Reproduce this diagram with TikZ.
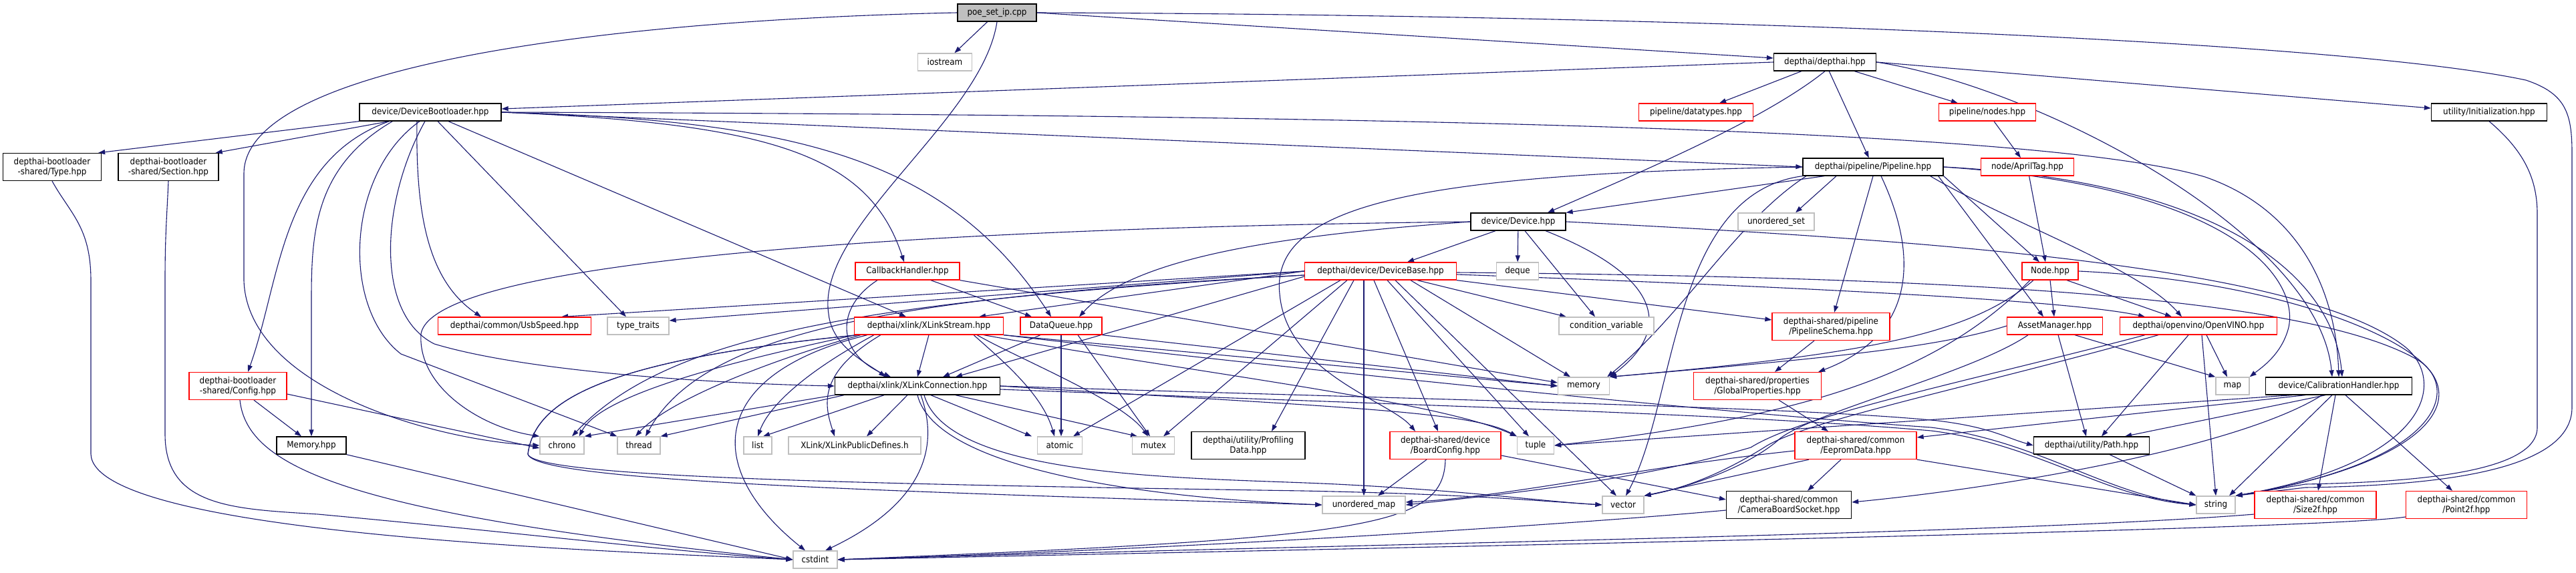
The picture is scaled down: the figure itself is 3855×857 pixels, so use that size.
\documentclass[tikz,border=0pt]{standalone}
\usepackage{fontspec}
\setmainfont{DejaVu Sans Condensed}
\usetikzlibrary{arrows.meta,backgrounds}
\definecolor{edgec}{HTML}{191970}
\definecolor{redc}{HTML}{FF0000}
\definecolor{grayc}{HTML}{BFBFBF}
\begin{document}
\begin{tikzpicture}[x=1pt,y=1pt,
  bx/.style={draw, line width=1.3pt, inner sep=0pt, minimum height=26pt, align=center, fill=white, font=\fontsize{13.3}{15}\selectfont},
  kb/.style={bx, draw=black},
  rb/.style={bx, draw=redc},
  gb/.style={bx, draw=grayc},
  tw/.style={minimum height=41pt},
  ed/.style={draw=edgec, line width=1.1pt, -{Triangle[length=10pt,width=7pt]}},
]
\useasboundingbox (0,0) rectangle (3855,-857);
% ---------------- nodes
\node[kb, fill=grayc, minimum width=118pt] (poe) at (1492,-19) {poe\_set\_ip.cpp};
\node[gb, minimum width=81pt] (iostream) at (1414,-93) {iostream};
\node[kb, minimum width=153pt] (dai) at (2731,-93) {depthai/depthai.hpp};
\node[kb, minimum width=212pt] (dbl) at (644,-168) {device/DeviceBootloader.hpp};
\node[rb, minimum width=171pt] (dtypes) at (2538,-168) {pipeline/datatypes.hpp};
\node[rb, minimum width=145pt] (pnodes) at (2974,-168) {pipeline/nodes.hpp};
\node[kb, minimum width=173pt] (init) at (3725,-168) {utility/Initialization.hpp};
\node[kb, tw, minimum width=147pt] (btype) at (78,-250) {depthai-bootloader\\-shared/Type.hpp};
\node[kb, tw, minimum width=150pt] (bsec) at (252,-250) {depthai-bootloader\\-shared/Section.hpp};
\node[kb, minimum width=210pt] (pipe) at (2803,-250) {depthai/pipeline/Pipeline.hpp};
\node[rb, minimum width=139pt] (april) at (3034,-250) {node/AprilTag.hpp};
\node[kb, minimum width=142pt] (dev) at (2272,-332) {device/Device.hpp};
\node[gb, minimum width=114pt] (uset) at (2658,-332) {unordered\_set};
\node[rb, minimum width=156pt] (cbh) at (1358,-406) {CallbackHandler.hpp};
\node[rb, minimum width=227pt] (dbase) at (2066,-406) {depthai/device/DeviceBase.hpp};
\node[gb, minimum width=63pt] (deque) at (2271,-406) {deque};
\node[rb, minimum width=84pt] (node) at (3068,-406) {Node.hpp};
\node[rb, minimum width=229pt] (usb) at (770,-488) {depthai/common/UsbSpeed.hpp};
\node[gb, minimum width=92pt] (ttraits) at (955,-488) {type\_traits};
\node[rb, minimum width=223pt] (xstream) at (1390,-488) {depthai/xlink/XLinkStream.hpp};
\node[rb, minimum width=122pt] (dq) at (1588,-488) {DataQueue.hpp};
\node[gb, minimum width=142pt] (cvar) at (2404,-488) {condition\_variable};
\node[rb, tw, minimum width=176pt] (pschema) at (2740,-489) {depthai-shared/pipeline\\/PipelineSchema.hpp};
\node[rb, minimum width=143pt] (asset) at (3075,-488) {AssetManager.hpp};
\node[rb, minimum width=235pt] (ov) at (3290,-488) {depthai/openvino/OpenVINO.hpp};
\node[rb, tw, minimum width=146pt] (bcfg) at (356,-578) {depthai-bootloader\\-shared/Config.hpp};
\node[kb, minimum width=247pt] (xconn) at (1373,-578) {depthai/xlink/XLinkConnection.hpp};
\node[gb, minimum width=77pt] (memory) at (2370,-578) {memory};
\node[rb, tw, minimum width=191pt] (gprop) at (2630,-578) {depthai-shared/properties\\/GlobalProperties.hpp};
\node[gb, minimum width=50pt] (map) at (3341,-578) {map};
\node[kb, minimum width=219pt] (calib) at (3500,-578) {device/CalibrationHandler.hpp};
\node[kb, minimum width=104pt] (bmem) at (466,-667) {Memory.hpp};
\node[gb, minimum width=66pt] (chrono) at (841,-667) {chrono};
\node[gb, minimum width=64pt] (thread) at (956,-667) {thread};
\node[gb, minimum width=42pt] (list) at (1134,-667) {list};
\node[gb, minimum width=198pt] (xpub) at (1279,-667) {XLink/XLinkPublicDefines.h};
\node[gb, minimum width=67pt] (atomic) at (1586,-667) {atomic};
\node[gb, minimum width=63pt] (mutex) at (1726,-667) {mutex};
\node[kb, tw, minimum width=170pt] (prof) at (1868,-667) {depthai/utility/Profiling\\Data.hpp};
\node[rb, tw, minimum width=166pt] (board) at (2163,-667) {depthai-shared/device\\/BoardConfig.hpp};
\node[gb, minimum width=55pt] (tuple) at (2298,-667) {tuple};
\node[rb, tw, minimum width=182pt] (eeprom) at (2777,-667) {depthai-shared/common\\/EepromData.hpp};
\node[kb, minimum width=173pt] (path) at (3130,-667) {depthai/utility/Path.hpp};
\node[gb, minimum width=124pt] (umap) at (2041,-756) {unordered\_map};
\node[gb, minimum width=62pt] (vector) at (2429,-756) {vector};
\node[kb, tw, minimum width=187pt] (cbs) at (2677,-756) {depthai-shared/common\\/CameraBoardSocket.hpp};
\node[gb, minimum width=58pt] (string) at (3316,-756) {string};
\node[rb, tw, minimum width=182pt] (size) at (3465,-756) {depthai-shared/common\\/Size2f.hpp};
\node[rb, tw, minimum width=181pt] (point) at (3691,-756) {depthai-shared/common\\/Point2f.hpp};
\node[gb, minimum width=66pt] (cstdint) at (1220,-838) {cstdint};
% ---------------- edges
\begin{pgfonlayer}{background}
\fill[white] (0,0) rectangle (3855,-857);
% poe
\draw[ed] (poe) -- (iostream);
\draw[ed] (poe.east) -- ([yshift=6pt]dai.west);
\draw[ed] (poe.west) .. controls (900,-30) and (365,-100) .. (365,-260) -- (365,-420) .. controls (370,-580) and (650,-660) .. (chrono.west);
\draw[ed] (poe.south) .. controls (1470,-180) and (1220,-340) .. (1240,-470) .. controls (1245,-520) and (1300,-545) .. ([xshift=-48pt]xconn.north);
\draw[ed] (poe.east) .. controls (2500,-22) and (3500,-60) .. (3780,-120) .. controls (3840,-140) and (3849,-170) .. (3849,-230) -- (3849,-610) .. controls (3849,-705) and (3650,-727) .. (3450,-730) -- (string.north east);
% depthai
\draw[ed] (dai.west) -- ([yshift=5pt]dbl.east);
\draw[ed] (dai) -- (dtypes);
\draw[ed] (dai.south) .. controls (2640,-180) and (2450,-260) .. ([xshift=44pt]dev.north);
\draw[ed] (dai) -- (pipe);
\draw[ed] (dai) -- (pnodes);
\draw[ed] (dai.east) -- ([yshift=6pt]init.west);
\draw[ed] (dai.east) .. controls (3050,-130) and (3470,-350) .. ([xshift=-10pt]calib.north);
\draw[ed] (pnodes) -- (april);
\draw[ed] (april) -- ([xshift=-7pt]node.north);
\draw[ed] (init.south) .. controls (3770,-220) and (3797,-260) .. (3797,-320) -- (3797,-640) .. controls (3797,-710) and (3600,-722) .. (3450,-725) -- (string.north east);
% DeviceBootloader
\draw[ed] (dbl.south west) -- ([xshift=-5pt]btype.north east);
\draw[ed] ([xshift=45pt]dbl.south west) -- ([xshift=-5pt]bsec.north east);
\draw[ed] ([xshift=45pt]dbl.south west) .. controls (420,-240) and (420,-420) .. ([xshift=15pt]bcfg.north);
\draw[ed] ([xshift=50pt]dbl.south west) .. controls (470,-250) and (466,-350) .. (466,-450) -- (bmem.north);
\draw[ed] ([xshift=-16pt]dbl.south) .. controls (518,-260) and (510,-460) .. (600,-530) -- (thread.north west);
\draw[ed] ([xshift=-8pt]dbl.south) .. controls (570,-300) and (560,-470) .. (650,-515) .. controls (800,-560) and (1100,-575) .. (xconn.west);
\draw[ed] ([xshift=-20pt]dbl.south) .. controls (622,-320) and (640,-420) .. ([xshift=-50pt]usb.north);
\draw[ed] ([xshift=11pt]dbl.south) -- ([xshift=-18pt]ttraits.north);
\draw[ed] ([xshift=27pt]dbl.south) -- ([xshift=-34pt]xstream.north);
\draw[ed] (dbl.east) .. controls (1150,-185) and (1300,-230) .. ([xshift=-5pt]cbh.north);
\draw[ed] (dbl.east) .. controls (1200,-180) and (1420,-240) .. ([xshift=-15pt]dq.north);
\draw[ed] (dbl.east) -- (pipe.west);
\draw[ed] (dbl.east) .. controls (2000,-172) and (3050,-190) .. (3300,-265) .. controls (3430,-310) and (3495,-420) .. (calib.north);
% bootloader shared
\draw[ed] (btype.south) .. controls (105,-320) and (136,-340) .. (136,-420) -- (136,-680) .. controls (140,-800) and (900,-825) .. (cstdint.west);
\draw[ed] (bsec.south) .. controls (250,-320) and (247,-350) .. (247,-420) -- (247,-650) .. controls (247,-760) and (350,-762) .. (476,-770) .. controls (800,-800) and (1000,-825) .. (cstdint.west);
\draw[ed] ([xshift=3pt]bcfg.south) .. controls (370,-700) and (520,-770) .. (cstdint.west);
\draw[ed] ([xshift=24pt]bcfg.south) -- ([xshift=-15pt]bmem.north);
\draw[ed] ([yshift=-12pt]bcfg.east) -- ([yshift=-4pt]chrono.west);
\draw[ed] (bmem.south east) -- (cstdint.west);
% Pipeline
\draw[ed] ([xshift=-73pt]pipe.south) -- (dev.north east);
\draw[ed] ([xshift=-55pt]pipe.south) -- ([xshift=29pt]uset.north);
\draw[ed] (pipe.south) -- ([xshift=5pt]pschema.north);
\draw[ed] ([xshift=12pt]pipe.south) .. controls (2870,-380) and (2870,-500) .. ([xshift=-5pt]gprop.north east);
\draw[ed] (pipe.south west) .. controls (2500,-290) and (2510,-600) .. ([xshift=4pt]vector.north);
\draw[ed] ([xshift=-100pt]pipe.south) .. controls (2600,-330) and (2520,-470) .. ([xshift=-4pt]memory.north east);
\draw[ed] (pipe.south east) -- ([xshift=-16pt]node.north);
\draw[ed] ([xshift=-8pt]pipe.south east) -- ([xshift=-17pt]asset.north);
\draw[ed] ([xshift=-20pt]pipe.south east) .. controls (3000,-330) and (3200,-400) .. ([xshift=-25pt]ov.north);
\draw[ed] (pipe.east) .. controls (3350,-280) and (3440,-420) .. (3425,-490) .. controls (3415,-530) and (3385,-550) .. (map.north east);
\draw[ed] (pipe.east) .. controls (3300,-270) and (3490,-400) .. ([xshift=5pt]calib.north);
\draw[ed] (pipe.west) .. controls (2150,-260) and (1900,-300) .. (1915,-440) .. controls (1925,-560) and (2080,-600) .. ([xshift=-45pt]board.north);
% Device
\draw[ed] ([xshift=-34pt]dev.south) -- ([xshift=40pt]dbase.north);
\draw[ed] (dev) -- (deque);
\draw[ed] ([xshift=10pt]dev.south) -- ([xshift=-17pt]cvar.north);
\draw[ed] ([xshift=41pt]dev.south) .. controls (2500,-420) and (2495,-500) .. (memory.north east);
\draw[ed] (dev.east) .. controls (2900,-360) and (3450,-400) .. (3600,-520) .. controls (3660,-570) and (3640,-690) .. (string.north east);
\draw[ed] (dev.west) .. controls (1950,-350) and (1700,-380) .. ([xshift=27pt]dq.north);
\draw[ed] (dev.west) .. controls (1500,-340) and (650,-380) .. (630,-500) .. controls (625,-580) and (720,-640) .. (chrono.north west);
% DeviceBase
\draw[ed] (dbase.west) -- ([yshift=8pt]ttraits.east);
\draw[ed] (dbase.west) -- ([xshift=70pt]usb.north);
\draw[ed] (dbase.west) -- ([xshift=75pt]xstream.north);
\draw[ed] ([yshift=-8pt]dbase.west) -- ([xshift=57pt]xconn.north);
\draw[ed] ([yshift=-6pt]dbase.west) .. controls (1300,-450) and (1000,-500) .. ([xshift=15pt]chrono.north);
\draw[ed] ([yshift=-6pt]dbase.west) .. controls (1320,-445) and (1050,-500) .. ([xshift=10pt]thread.north);
\draw[ed] ([xshift=-60pt]dbase.south) -- ([xshift=20pt]atomic.north);
\draw[ed] ([xshift=-50pt]dbase.south) -- ([xshift=15pt]mutex.north);
\draw[ed] ([xshift=-40pt]dbase.south) -- ([xshift=35pt]prof.north);
\draw[ed] ([xshift=-25pt]dbase.south) -- ([xshift=0pt]umap.north);
\draw[ed] ([xshift=-10pt]dbase.south) -- ([xshift=-11pt]board.north);
\draw[ed] ([xshift=10pt]dbase.south) -- ([xshift=-10pt]tuple.north);
\draw[ed] ([xshift=22pt]dbase.south) -- ([xshift=-10pt]vector.north);
\draw[ed] ([xshift=45pt]dbase.south) -- ([xshift=-20pt]memory.north);
\draw[ed] ([xshift=55pt]dbase.south) -- ([xshift=-60pt]cvar.north);
\draw[ed] (dbase.south east) -- ([yshift=10pt]pschema.west);
\draw[ed] ([yshift=-5pt]dbase.east) .. controls (2700,-430) and (3100,-450) .. ([xshift=-80pt]ov.north);
\draw[ed] ([yshift=-2pt]dbase.east) .. controls (2900,-415) and (3450,-440) .. (3620,-540) .. controls (3680,-580) and (3660,-690) .. (string.north east);
% CallbackHandler
\draw[ed] ([xshift=-45pt]cbh.south) .. controls (1250,-460) and (1250,-530) .. ([xshift=-40pt]xconn.north);
\draw[ed] ([xshift=35pt]cbh.south) -- ([xshift=-44pt]dq.north);
\draw[ed] (cbh.south east) -- ([yshift=5pt]memory.west);
% XLinkStream
\draw[ed] (xstream.south) -- (xconn.north);
\draw[ed] ([xshift=2pt]xstream.south west) .. controls (1100,-540) and (900,-590) .. ([xshift=-8pt]chrono.north east);
\draw[ed] ([xshift=10pt]xstream.south west) .. controls (1150,-540) and (1000,-600) .. ([xshift=-5pt]thread.north);
\draw[ed] ([xshift=30pt]xstream.south west) .. controls (1200,-560) and (1150,-610) .. (list.north);
\draw[ed] ([xshift=40pt]xstream.south west) .. controls (1220,-560) and (1235,-610) .. ([xshift=-30pt]xpub.north);
\draw[ed] ([xshift=20pt]xstream.south west) .. controls (1060,-560) and (1050,-700) .. ([xshift=-15pt]cstdint.north);
\draw[ed] ([xshift=5pt]xstream.south west) .. controls (900,-540) and (800,-600) .. (790,-680) .. controls (800,-720) and (1300,-735) .. (umap.west);
\draw[ed] ([xshift=5pt]xstream.south west) .. controls (900,-540) and (800,-600) .. (790,-680) .. controls (800,-715) and (1300,-725) .. (1950,-735) .. controls (2200,-740) and (2300,-750) .. (vector.west);
\draw[ed] ([xshift=-45pt]xstream.south east) .. controls (1500,-540) and (1560,-590) .. ([xshift=-8pt]atomic.north);
\draw[ed] ([xshift=-40pt]xstream.south east) .. controls (1530,-540) and (1680,-600) .. ([xshift=-8pt]mutex.north);
\draw[ed] (xstream.south east) -- (memory.west);
\draw[ed] ([xshift=-30pt]xstream.south east) .. controls (1800,-560) and (2150,-600) .. (tuple.north west);
\draw[ed] (xstream.south east) .. controls (2000,-560) and (2600,-620) .. (2890,-640) .. controls (3050,-660) and (3150,-740) .. (string.west);
% DataQueue
\draw[ed] ([xshift=-31pt]dq.south) -- ([xshift=38pt]xconn.north);
\draw[ed] (dq.south) -- ([xshift=2pt]atomic.north);
\draw[ed] ([xshift=25pt]dq.south) -- ([xshift=-5pt]mutex.north);
\draw[ed] (dq.south east) -- (memory.west);
% XLinkConnection
\draw[ed] ([xshift=-110pt]xconn.south) -- (thread.north east);
\draw[ed] (xconn.south west) -- (chrono.north east);
\draw[ed] ([xshift=-50pt]xconn.south) -- ([xshift=8pt]list.north);
\draw[ed] ([xshift=-15pt]xconn.south) -- ([xshift=18pt]xpub.north);
\draw[ed] ([xshift=5pt]xconn.south) .. controls (1410,-680) and (1370,-760) .. ([xshift=15pt]cstdint.north);
\draw[ed] ([xshift=20pt]xconn.south) -- ([xshift=-42pt]atomic.north);
\draw[ed] ([xshift=57pt]xconn.south) -- ([xshift=-24pt]mutex.north);
\draw[ed] (xconn.east) .. controls (2000,-610) and (2200,-615) .. (tuple.north west);
\draw[ed] (xconn.south) .. controls (1400,-700) and (1700,-745) .. (umap.west);
\draw[ed] ([xshift=10pt]xconn.south) .. controls (1420,-720) and (1800,-715) .. (2000,-725) .. controls (2200,-735) and (2300,-750) .. (vector.west);
\draw[ed] (xconn.east) .. controls (2200,-600) and (2700,-610) .. (2900,-630) .. controls (2980,-640) and (3000,-655) .. (path.west);
\draw[ed] ([yshift=-5pt]xconn.east) .. controls (2200,-610) and (2600,-620) .. (2890,-645) .. controls (3050,-665) and (3150,-745) .. (string.west);
% shared
\draw[ed] ([xshift=-25pt]pschema.south) -- ([xshift=26pt]gprop.north);
\draw[ed] ([xshift=32pt]gprop.south) -- ([xshift=-41pt]eeprom.north);
\draw[ed] ([yshift=-8pt]eeprom.west) .. controls (2450,-700) and (2250,-745) .. ([yshift=4pt]umap.east);
\draw[ed] ([xshift=-70pt]eeprom.south) -- (vector.north east);
\draw[ed] ([xshift=-22pt]eeprom.south) -- ([xshift=28pt]cbs.north);
\draw[ed] (eeprom.south east) -- (string.west);
\draw[ed] ([yshift=-8pt]cbs.west) .. controls (2300,-790) and (1700,-825) .. (cstdint.east);
\draw[ed] ([xshift=-28pt]board.south) -- ([xshift=21pt]umap.north);
\draw[ed] (board.south) .. controls (2160,-790) and (2050,-805) .. (cstdint.east);
\draw[ed] ([yshift=-15pt]board.east) -- ([yshift=8pt]cbs.west);
\draw[ed] ([yshift=-14pt]size.west) .. controls (3000,-800) and (2000,-815) .. (cstdint.east);
\draw[ed] ([yshift=-18pt]point.west) .. controls (3500,-790) and (2600,-810) .. (cstdint.east);
% Node
\draw[ed] ([xshift=-25pt]node.south) .. controls (2950,-500) and (2800,-530) .. (memory.north east);
\draw[ed] ([xshift=-30pt]node.south) .. controls (2900,-560) and (2700,-625) .. (tuple.east);
\draw[ed] (node.south) -- ([xshift=-1pt]asset.north);
\draw[ed] ([xshift=25pt]node.south) -- ([xshift=-40pt]ov.north);
\draw[ed] (node.east) .. controls (3400,-420) and (3600,-500) .. (3640,-560) .. controls (3680,-620) and (3600,-700) .. (string.north east);
% AssetManager
\draw[ed] (asset.west) .. controls (2900,-520) and (2750,-535) .. (memory.north east);
\draw[ed] ([xshift=-40pt]asset.south) .. controls (2950,-560) and (2700,-620) .. (2660,-660) .. controls (2600,-710) and (2500,-735) .. (vector.north east);
\draw[ed] ([xshift=5pt]asset.south) -- ([xshift=-8pt]path.north);
\draw[ed] ([xshift=30pt]asset.south) -- (map.north west);
% OpenVINO
\draw[ed] ([xshift=-80pt]ov.south) .. controls (2950,-570) and (2700,-620) .. (2620,-670) .. controls (2450,-720) and (2250,-740) .. (umap.east);
\draw[ed] ([xshift=-60pt]ov.south) .. controls (2950,-580) and (2700,-630) .. (2640,-670) .. controls (2560,-720) and (2500,-735) .. (vector.north east);
\draw[ed] ([xshift=-15pt]ov.south) -- ([xshift=15pt]path.north);
\draw[ed] ([xshift=5pt]ov.south) -- (string.north);
\draw[ed] ([xshift=12pt]ov.south) -- ([xshift=-8pt]map.north);
% CalibrationHandler
\draw[ed] ([xshift=-70pt]calib.south) -- (tuple.east);
\draw[ed] ([xshift=-50pt]calib.south) -- ([yshift=12pt]eeprom.east);
\draw[ed] ([xshift=-20pt]calib.south) -- ([xshift=50pt]path.north);
\draw[ed] ([xshift=-25pt]calib.south) .. controls (3350,-670) and (3000,-730) .. ([yshift=4pt]cbs.east);
\draw[ed] ([xshift=-10pt]calib.south) -- ([xshift=20pt]string.north);
\draw[ed] ([xshift=-5pt]calib.south) -- ([xshift=4pt]size.north);
\draw[ed] ([xshift=10pt]calib.south) -- ([xshift=-21pt]point.north);
\draw[ed] ([xshift=27pt]path.south) -- (string.north west);
\end{pgfonlayer}
\end{tikzpicture}
\end{document}
